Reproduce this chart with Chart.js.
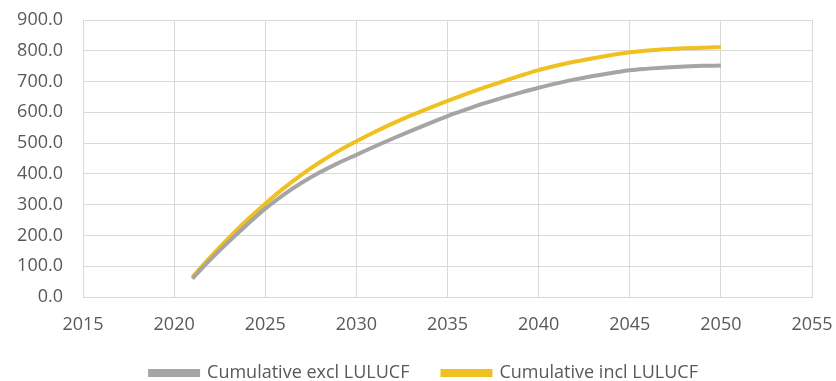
<!DOCTYPE html>
<html>
<head>
<meta charset="utf-8">
<script src="https://cdn.jsdelivr.net/npm/chart.js@4/dist/chart.umd.min.js"></script>
<style>
html,body{margin:0;padding:0;background:#fff;}
#wrap{width:836px;height:381px;position:relative;}
</style>
</head>
<body>
<div id="wrap"><canvas id="c" width="836" height="381"></canvas></div>
<script>
const years = [2021,2022,2023,2024,2025,2026,2027,2028,2029,2030,2031,2032,2033,2034,2035,2036,2037,2038,2039,2040,2041,2042,2043,2044,2045,2046,2047,2048,2049,2050];
const cumulativeExcl = [60,122,180,235,287,332,371,405,435,462,489,515,540,564,588,609,629,647,664,680,694,707,718,728,737,742,746,749,751,752];
const cumulativeIncl = [65,130,192,250,303,353,398,438,474,506,536,564,590,614,637,659,680,700,719,737,752,765,776,786,795,801,805,808,810,812];
const xTicks = [2015,2020,2025,2030,2035,2040,2045,2050,2055];
const yTicks = [0,100,200,300,400,500,600,700,800,900];
const seriesNames = ['Cumulative excl LULUCF','Cumulative incl LULUCF'];

const toPts = (vals) => years.map((y,i)=>({x:y,y:vals[i]}));
const FONT = '"Open Sans", sans-serif';
const TXT = '#595959';
const GRID = '#d9d9d9';

const legendShift = {
  id:'legendShift',
  afterLayout(chart){
    const lg = chart.legend;
    lg.top -= 12;
    lg.bottom = chart.height;
    lg.height = lg.bottom - lg.top;
    lg.left += 18; lg.right += 18;
  }
};

new Chart(document.getElementById('c'), {
  type: 'line',
  data: {
    datasets: [
      {label: seriesNames[0], data: toPts(cumulativeExcl), borderColor:'#a5a5a5', backgroundColor:'#a5a5a5', borderWidth:4, pointRadius:0, cubicInterpolationMode:'monotone', fill:false},
      {label: seriesNames[1], data: toPts(cumulativeIncl), borderColor:'#f0c020', backgroundColor:'#f0c020', borderWidth:4, pointRadius:0, cubicInterpolationMode:'monotone', fill:false}
    ]
  },
  plugins:[legendShift],
  options: {
    responsive:false,
    animation:false,
    layout:{padding:{top:20,right:24,left:0,bottom:0}},
    plugins:{
      legend:{
        position:'bottom',
        maxHeight:38,
        labels:{boxWidth:48,boxHeight:4,color:TXT,font:{family:FONT,size:18},padding:33}
      },
      tooltip:{enabled:false}
    },
    scales:{
      x:{
        type:'linear',
        min:xTicks[0], max:xTicks[xTicks.length-1],
        afterBuildTicks:(s)=>{s.ticks = xTicks.map(v=>({value:v}));},
        afterFit:(s)=>{s.height=46; s.paddingLeft=0; s.paddingRight=0;},
        grid:{color:GRID,drawTicks:false,lineWidth:1},
        border:{color:GRID},
        ticks:{color:TXT,font:{family:FONT,size:18},padding:17,callback:(v)=>String(v),maxRotation:0}
      },
      y:{
        min:yTicks[0], max:yTicks[yTicks.length-1],
        afterBuildTicks:(s)=>{s.ticks = yTicks.map(v=>({value:v}));},
        afterFit:(s)=>{s.width=83; s.paddingTop=0; s.paddingBottom=0;},
        grid:{color:GRID,drawTicks:false,lineWidth:1},
        border:{color:GRID},
        ticks:{color:TXT,font:{family:FONT,size:18},padding:20,callback:(v)=>Number(v).toFixed(1)}
      }
    }
  }
});
</script>
</body>
</html>
